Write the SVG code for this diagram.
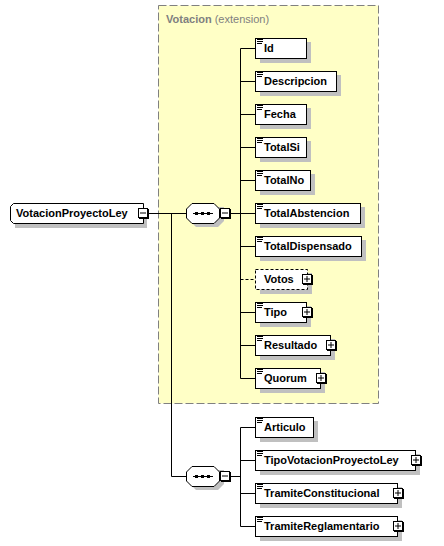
<svg xmlns="http://www.w3.org/2000/svg" width="444" height="546" viewBox="0 0 444 546">
<style>
text{font-family:"Liberation Sans",Arial,sans-serif;font-size:11px;font-weight:bold;fill:#000}
.box{fill:#fff;stroke:#000;stroke-width:1}
.opt{fill:#fff;stroke:#000;stroke-width:1;stroke-dasharray:3,2}
.sh{fill:#c0c0c0}
.ln{stroke:#000;stroke-width:1;fill:none}
.dl{stroke:#000;stroke-width:1;fill:none;stroke-dasharray:3,2}
.pm{fill:#fff;stroke:#000;stroke-width:1}
.ttl{fill:#808080}
</style>
<defs>
<g id="ico"><path d="M2,1.5h6M2,3.5h6M2,5.5h5" stroke="#000" stroke-width="1" fill="none"/></g>
<g id="plus"><rect x="1" y="1" width="10" height="10" fill="#000"/><rect x="0.5" y="0.5" width="9" height="9" class="pm"/><path d="M2,5h6M5,2v6" stroke="#000" stroke-width="1"/></g>
<g id="minus"><rect x="1" y="1" width="10" height="10" fill="#000"/><rect x="0.5" y="0.5" width="9" height="9" class="pm"/><path d="M2,5h6" stroke="#000" stroke-width="1"/></g>
</defs>

<rect x="158.5" y="5.5" width="220" height="398" fill="#ffffc6" stroke="#808080" stroke-width="1" stroke-dasharray="8,3"/>
<text x="166" y="23" class="ttl">Votacion <tspan font-weight="normal">(extension)</tspan></text>

<g id="connectors">
<path class="ln" d="M149,213.5H186M171.5,213.5V476.5H186"/>
<path class="ln" d="M230,213.5H240.5M240.5,48.5V378.5"/>
<path class="ln" d="M240.5,48.5H255M240.5,81.5H255M240.5,114.5H255M240.5,147.5H255M240.5,180.5H255M240.5,213.5H255M240.5,246.5H255M240.5,312.5H255M240.5,345.5H255M240.5,378.5H255"/>
<path class="dl" d="M240.5,279.5H255"/>
<path class="ln" d="M230,476.5H240.5M240.5,427.5V526.5M240.5,427.5H255M240.5,460.5H255M240.5,493.5H255M240.5,526.5H255"/>
</g>

<g id="root">
<path class="sh" d="M18,208H147V228H15L15,211Z"/>
<path class="box" d="M13.5,203.5H143.5V223.5H13.5L10.5,220.5V206.5Z"/>
<text x="16" y="217">VotacionProyectoLey</text>
<use href="#minus" x="138" y="208"/>
</g>

<g id="seq1">
<path class="sh" d="M196,207H224V215L224,221L218,227H196L190,221V213Z"/>
<path class="box" d="M192,203.5H214L219.5,209V218L214,223.5H192L186.5,218V209Z"/>
<path class="ln" d="M193,213.5H213"/>
<rect x="195" y="212" width="3" height="3"/><rect x="201" y="212" width="3" height="3"/><rect x="207" y="212" width="3" height="3"/>
<use href="#minus" x="220" y="208"/>
</g>

<g id="seq2">
<path class="sh" d="M196,470H224V478L224,484L218,490H196L190,484V476Z"/>
<path class="box" d="M192,466.5H214L219.5,472V481L214,486.5H192L186.5,481V472Z"/>
<path class="ln" d="M193,476.5H213"/>
<rect x="195" y="475" width="3" height="3"/><rect x="201" y="475" width="3" height="3"/><rect x="207" y="475" width="3" height="3"/>
<use href="#minus" x="220" y="471"/>
</g>

<g id="Id"><rect class="sh" x="260" y="42" width="51" height="21"/><rect class="box" x="255.5" y="38.5" width="51" height="20"/><use href="#ico" x="255" y="38"/><text x="264" y="52">Id</text></g>
<g id="Descripcion"><rect class="sh" x="260" y="75" width="81" height="21"/><rect class="box" x="255.5" y="71.5" width="81" height="20"/><use href="#ico" x="255" y="71"/><text x="264" y="85">Descripcion</text></g>
<g id="Fecha"><rect class="sh" x="260" y="108" width="51" height="21"/><rect class="box" x="255.5" y="104.5" width="51" height="20"/><use href="#ico" x="255" y="104"/><text x="264" y="118">Fecha</text></g>
<g id="TotalSi"><rect class="sh" x="260" y="141" width="51" height="21"/><rect class="box" x="255.5" y="137.5" width="51" height="20"/><use href="#ico" x="255" y="137"/><text x="264" y="151">TotalSi</text></g>
<g id="TotalNo"><rect class="sh" x="260" y="174" width="55" height="21"/><rect class="box" x="255.5" y="170.5" width="55" height="20"/><use href="#ico" x="255" y="170"/><text x="264" y="184">TotalNo</text></g>
<g id="TotalAbstencion"><rect class="sh" x="260" y="207" width="105" height="21"/><rect class="box" x="255.5" y="203.5" width="105" height="20"/><use href="#ico" x="255" y="203"/><text x="264" y="217">TotalAbstencion</text></g>
<g id="TotalDispensado"><rect class="sh" x="260" y="240" width="106" height="21"/><rect class="box" x="255.5" y="236.5" width="106" height="20"/><use href="#ico" x="255" y="236"/><text x="264" y="250">TotalDispensado</text></g>
<g id="Votos"><rect class="sh" x="260" y="273" width="52" height="21"/><rect class="opt" x="255.5" y="269.5" width="52" height="20"/><text x="264" y="283">Votos</text><use href="#plus" x="302" y="274"/></g>
<g id="Tipo"><rect class="sh" x="260" y="306" width="51" height="21"/><rect class="box" x="255.5" y="302.5" width="51" height="20"/><use href="#ico" x="255" y="302"/><text x="264" y="316">Tipo</text><use href="#plus" x="302" y="307"/></g>
<g id="Resultado"><rect class="sh" x="260" y="339" width="75" height="21"/><rect class="box" x="255.5" y="335.5" width="75" height="20"/><use href="#ico" x="255" y="335"/><text x="264" y="349">Resultado</text><use href="#plus" x="326" y="340"/></g>
<g id="Quorum"><rect class="sh" x="260" y="372" width="65" height="21"/><rect class="box" x="255.5" y="368.5" width="65" height="20"/><use href="#ico" x="255" y="368"/><text x="264" y="382">Quorum</text><use href="#plus" x="316" y="373"/></g>

<g id="Articulo"><rect class="sh" x="260" y="421" width="58" height="21"/><rect class="box" x="255.5" y="417.5" width="58" height="20"/><use href="#ico" x="255" y="417"/><text x="264" y="431">Articulo</text></g>
<g id="TipoVotacionProyectoLey"><rect class="sh" x="260" y="454" width="160" height="21"/><rect class="box" x="255.5" y="450.5" width="160" height="20"/><use href="#ico" x="255" y="450"/><text x="264" y="464">TipoVotacionProyectoLey</text><use href="#plus" x="411" y="455"/></g>
<g id="TramiteConstitucional"><rect class="sh" x="260" y="487" width="142" height="21"/><rect class="box" x="255.5" y="483.5" width="142" height="20"/><use href="#ico" x="255" y="483"/><text x="264" y="497">TramiteConstitucional</text><use href="#plus" x="393" y="488"/></g>
<g id="TramiteReglamentario"><rect class="sh" x="260" y="520" width="142" height="21"/><rect class="box" x="255.5" y="516.5" width="142" height="20"/><use href="#ico" x="255" y="516"/><text x="264" y="530">TramiteReglamentario</text><use href="#plus" x="393" y="521"/></g>
</svg>
